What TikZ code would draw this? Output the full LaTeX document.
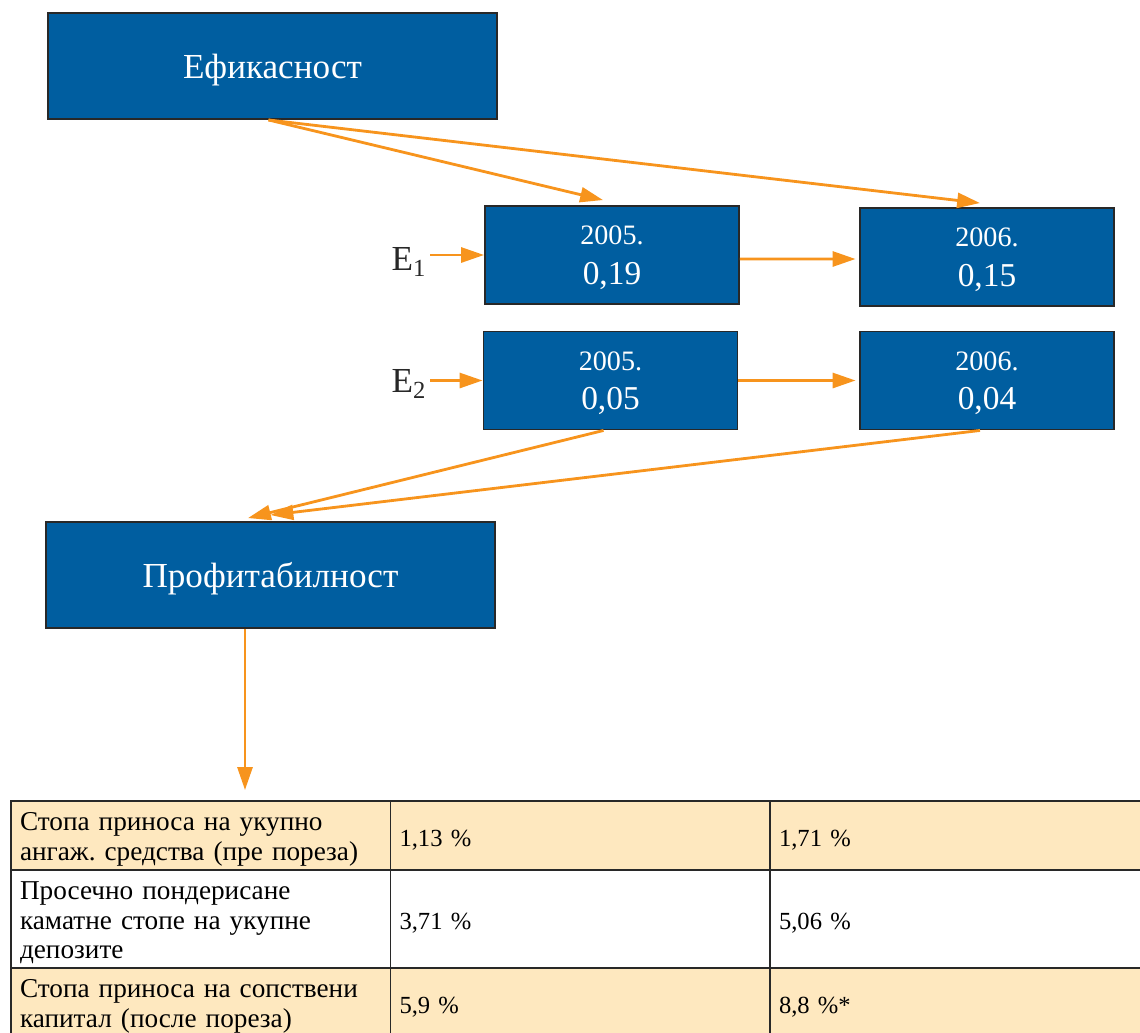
\documentclass[tikz,border=0pt]{standalone}
\usepackage{fontspec}
\setmainfont{Liberation Serif}
\usepackage{xcolor}
\usepackage{tikz}
\usetikzlibrary{arrows.meta,calc}
\definecolor{PlavaKutija}{RGB}{0,94,160}
\definecolor{NarandzastaStrelica}{RGB}{247,148,29}
\definecolor{BezRed}{RGB}{254,232,191}
\definecolor{TamnaIvica}{RGB}{40,40,40}
\newcommand{\godina}[1]{{\fontsize{16}{19}\selectfont #1}}
\frenchspacing

\begin{document}
\begin{tikzpicture}[x=0.02cm,y=-0.02cm,>={Triangle[length=13pt,width=8.5pt]},
  kutija/.style={draw=TamnaIvica,line width=1.1pt,fill=PlavaKutija,text=white,align=center,inner sep=0pt},
  velika/.style={kutija,minimum width=8.98cm,minimum height=2.12cm,text depth=0pt,font=\fontsize{20}{24}\selectfont},
  mala/.style={kutija,minimum width=5.08cm,minimum height=1.96cm,text depth=0pt,font=\fontsize{19}{22.5}\selectfont},
  oznaka/.style={text=TamnaIvica,inner sep=2pt,font=\fontsize{20}{24}\selectfont},
  strelica/.style={->,NarandzastaStrelica,line width=1.6pt},
  celija/.style={draw=TamnaIvica,line width=0.8pt,minimum width=7.6cm,text width=7.24cm,
    inner xsep=0.18cm,inner ysep=0pt,align=left,font=\fontsize{15.5}{16.8}\selectfont,
    execute at begin node={\rule{0pt}{14.5pt}}},
  broj/.style={celija,font=\fontsize{14}{16}\selectfont,execute at begin node={}}]
  \useasboundingbox (0,0) rectangle (1140,1032);
  \clip (0,0) rectangle (1140,1032);

  \node[velika] (efik) at (272.5,66) {Ефикасност};
  \node[mala] (a1) at (612,255) {\godina{2005.}\\0,19};
  \node[mala] (b1) at (987,257) {\godina{2006.}\\0,15};
  \node[mala] (a2) at (610.5,380.5) {\godina{2005.}\\0,05};
  \node[mala] (b2) at (987,380.5) {\godina{2006.}\\0,04};
  \node[velika] (prof) at (270.5,575) {Профитабилност};
  \node[oznaka] (e1) at (409,262) {E\textsubscript{1}};
  \node[oznaka] (e2) at (409,384) {E\textsubscript{2}};

  % strelice
  \draw[strelica] ([xshift=-0.08cm]efik.south) -- ([xshift=-0.18cm,yshift=0.1cm]a1.north);
  \draw[strelica] ([xshift=-0.08cm]efik.south) -- ([xshift=-0.14cm,yshift=0.08cm]b1.north);
  \draw[strelica] (e1.east |- a1.west) -- (a1.west);
  \draw[strelica] (e2.east |- a2.west) -- (a2.west);
  \draw[strelica] ([yshift=-0.08cm]a1.east) -- ([xshift=-2pt,yshift=-0.04cm]b1.west);
  \draw[strelica] (a2.east) -- ([xshift=-2pt]b2.west);
  \draw[strelica] ([xshift=-0.14cm]a2.south) -- ([xshift=-0.45cm,yshift=0.06cm]prof.north);
  \draw[strelica] ([xshift=-0.14cm]b2.south) -- ([yshift=0.12cm]prof.north);
  \coordinate (ulaz) at (245,790);
  \draw[strelica] (prof.south -| ulaz) -- (ulaz);

  % tabela
  \node[celija,fill=BezRed,minimum height=1.38cm] (t11) at (201,835.5) {Стопа приноса на укупно\\ангаж. средства (пре пореза)};
  \node[broj,fill=BezRed,minimum height=1.38cm] (t12) at (580.5,835.5) {1,13 \%};
  \node[broj,fill=BezRed,minimum height=1.38cm] (t13) at (960,835.5) {1,71 \%};
  \node[celija,fill=white,minimum height=1.96cm] (t21) at (201,919) {Просечно пондерисане\\каматне стопе на укупне\\депозите};
  \node[broj,fill=white,minimum height=1.96cm] (t22) at (580.5,919) {3,71 \%};
  \node[broj,fill=white,minimum height=1.96cm] (t23) at (960,919) {5,06 \%};
  \node[celija,fill=BezRed,minimum height=1.38cm] (t31) at (201,1002.5) {Стопа приноса на сопствени\\капитал (после пореза)};
  \node[broj,fill=BezRed,minimum height=1.38cm] (t32) at (580.5,1002.5) {5,9 \%};
  \node[broj,fill=BezRed,minimum height=1.38cm] (t33) at (960,1002.5) {8,8 \%*};
\end{tikzpicture}
\end{document}
